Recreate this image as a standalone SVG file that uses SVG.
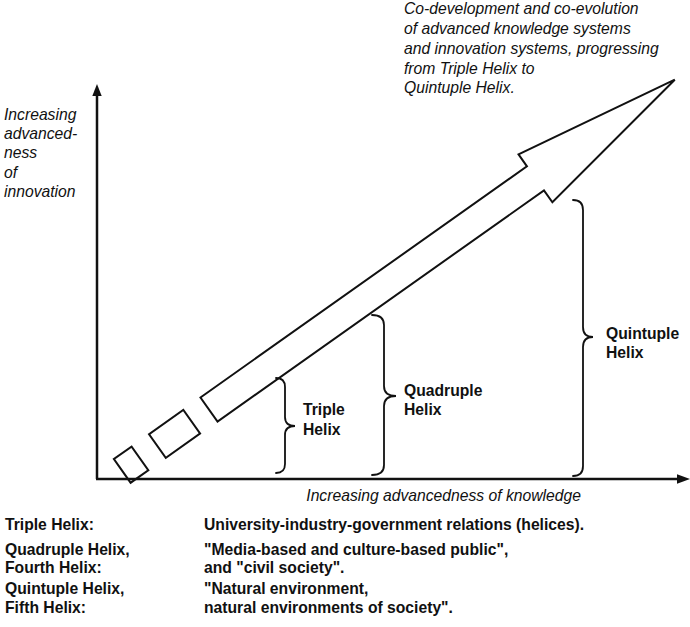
<svg xmlns="http://www.w3.org/2000/svg" width="690" height="627" viewBox="0 0 690 627">
<style>
  .it { font-family: "Liberation Sans", Arial, sans-serif; font-style: italic; font-size: 15.7px; fill: #111; }
  .bd { font-family: "Liberation Sans", Arial, sans-serif; font-weight: bold; font-size: 15.7px; fill: #111; }
  .ax { stroke: #111; stroke-width: 2.5; fill: none; }
  .shape { stroke: #111; stroke-width: 2; fill: none; stroke-linejoin: miter; }
  .brace { stroke: #111; stroke-width: 1.8; fill: none; stroke-linecap: round; }
</style>
<rect width="690" height="627" fill="#fff"/>

<g id="connectors">
  <line class="ax" x1="97" y1="479" x2="97" y2="94"/>
  <polygon points="97,84 92.3,96 101.7,96" fill="#111"/>
  <line class="ax" x1="96" y1="479" x2="679" y2="479"/>
  <polygon points="690,479 677,474.3 677,483.7" fill="#111"/>
</g>

<g id="y-axis-label">
  <text class="it" x="4" y="120">Increasing</text>
  <text class="it" x="4" y="139">advanced-</text>
  <text class="it" x="4" y="158">ness</text>
  <text class="it" x="4" y="177.5">of</text>
  <text class="it" x="4" y="196.5">innovation</text>
</g>

<g id="x-axis-label">
  <text class="it" x="581" y="501" text-anchor="end">Increasing advancedness of knowledge</text>
</g>

<g id="big-arrow" transform="translate(209,409.5) rotate(-35.3)">
  <polygon class="shape" points="0,-14.75 400,-14.75 400,-29.3 570.7,0 400,29.3 400,14.75 0,14.75"/>
  <rect class="shape" x="-63.2" y="-14.5" width="42" height="29"/>
  <rect class="shape" x="-106.3" y="-14.5" width="21.7" height="29"/>
</g>

<g id="arrow-label">
  <text class="it" x="404" y="14">Co-development and co-evolution</text>
  <text class="it" x="404" y="34">of advanced knowledge systems</text>
  <text class="it" x="404" y="54">and innovation systems, progressing</text>
  <text class="it" x="404" y="73.5">from Triple Helix to</text>
  <text class="it" x="404" y="93">Quintuple Helix.</text>
</g>

<g id="triple-helix">
  <path class="brace" d="M276,378 Q285,378 285,387 L285,417 Q285,426 295,426 Q285,426 285,435 L285,464 Q285,473 276,473"/>
  <text class="bd" x="303" y="415">Triple</text>
  <text class="bd" x="303" y="435">Helix</text>
</g>

<g id="quadruple-helix">
  <path class="brace" d="M372,315 Q384,315 384,325 L384,386 Q384,396 396,396 Q384,396 384,406 L384,465 Q384,475 372,475"/>
  <text class="bd" x="404" y="396">Quadruple</text>
  <text class="bd" x="404" y="415">Helix</text>
</g>

<g id="quintuple-helix">
  <path class="brace" d="M573,200 Q583,200 583,210 L583,327 Q583,337 593,337 Q583,337 583,347 L583,466 Q583,476 573,476"/>
  <text class="bd" x="606" y="339">Quintuple</text>
  <text class="bd" x="606" y="358">Helix</text>
</g>

<g id="legend">
  <text class="bd" x="5" y="530">Triple Helix:</text>
  <text class="bd" x="204" y="530">University-industry-government relations (helices).</text>
  <text class="bd" x="5" y="555">Quadruple Helix,</text>
  <text class="bd" x="5" y="573">Fourth Helix:</text>
  <text class="bd" x="204" y="555">"Media-based and culture-based public",</text>
  <text class="bd" x="204" y="573">and "civil society".</text>
  <text class="bd" x="5" y="594">Quintuple Helix,</text>
  <text class="bd" x="5" y="613">Fifth Helix:</text>
  <text class="bd" x="204" y="594">"Natural environment,</text>
  <text class="bd" x="204" y="613">natural environments of society".</text>
</g>
</svg>
